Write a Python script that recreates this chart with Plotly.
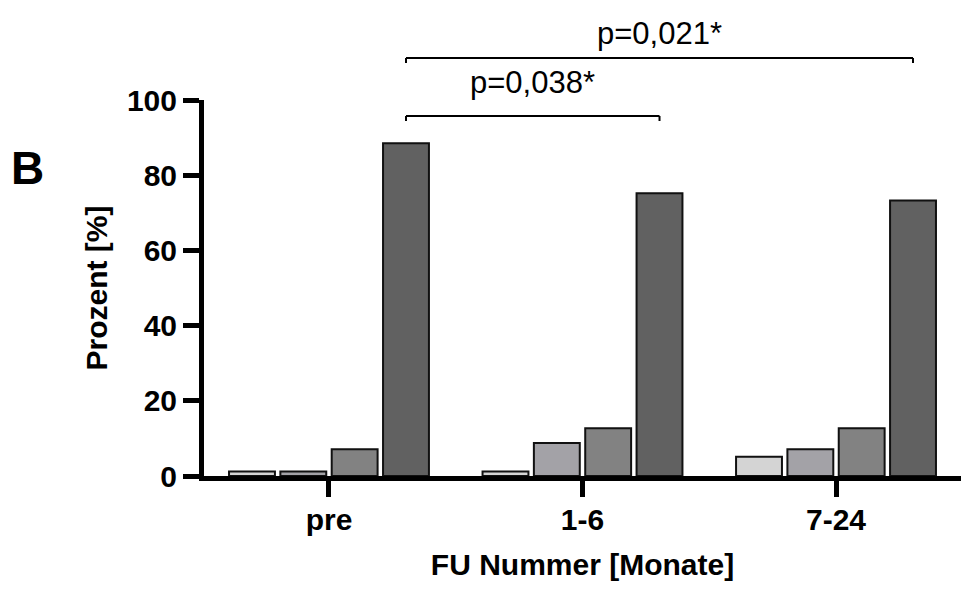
import plotly.graph_objects as go

# ---- data ----
categories = ["pre", "1-6", "7-24"]
series_names = ["Kategorie 1", "Kategorie 2", "Kategorie 3", "Kategorie 4"]
values_k1 = [1.2, 1.2, 5.1]
values_k2 = [1.2, 8.8, 7.1]
values_k3 = [7.1, 12.7, 12.7]
values_k4 = [88.5, 75.2, 73.3]
series_values = [values_k1, values_k2, values_k3, values_k4]
colors = ["#d4d4d4", "#a3a2a7", "#828282", "#616161"]

y_ticks = [0, 20, 40, 60, 80, 100]
comparisons = [("pre", "1-6", "p=0,038*"), ("pre", "7-24", "p=0,021*")]

FONT = "Arial, Liberation Sans, sans-serif"
BARGAP = 0.19
GROUPGAP = 0.106

fig = go.Figure()
for name, vals, col in zip(series_names, series_values, colors):
    fig.add_trace(go.Bar(
        x=categories, y=vals, name=name,
        marker=dict(color=col, line=dict(color="#111111", width=2)),
        showlegend=False,
    ))

W, H = 961, 596
ML, MR, MT, MB = 204, 0, 100, 120
plot_h = H - MT - MB

def py(px):
    # pixel from top -> paper y
    return (H - MB - px) / plot_h

# offset of the 4th bar centre inside a group
slot = (1 - BARGAP) / len(series_names)
off4 = slot * 1.5

bracket_px = [116, 58]
text_px = [82, 33]
tick_drop = 5 / plot_h
shapes = []
annotations = []
for (a, b, label), bpx, tpx in zip(comparisons, bracket_px, text_px):
    xa = categories.index(a) + off4
    xb = categories.index(b) + off4
    yb = py(bpx)
    for path in [
        dict(x0=xa, x1=xb, y0=yb, y1=yb),
        dict(x0=xa, x1=xa, y0=yb, y1=yb - tick_drop),
        dict(x0=xb, x1=xb, y0=yb, y1=yb - tick_drop),
    ]:
        shapes.append(dict(type="line", xref="x", yref="paper",
                           line=dict(color="black", width=2), **path))
    annotations.append(dict(x=(xa + xb) / 2, y=py(tpx), xref="x", yref="paper",
                            text=label, showarrow=False, xanchor="center",
                            yanchor="middle",
                            font=dict(family=FONT, size=31, color="black")))

annotations.append(dict(x=-0.2338, y=py(168), xref="paper", yref="paper",
                        text="<b>B</b>", showarrow=False, xanchor="center",
                        yanchor="middle",
                        font=dict(family=FONT, size=46, color="black")))

fig.update_layout(
    width=W, height=H,
    margin=dict(l=ML, r=MR, t=MT, b=MB),
    paper_bgcolor="white", plot_bgcolor="white",
    barmode="group", bargap=BARGAP, bargroupgap=GROUPGAP,
    shapes=shapes, annotations=annotations,
    font=dict(family=FONT, color="black"),
    xaxis=dict(
        range=[-0.493, 2.493],
        showline=True, linecolor="black", linewidth=5,
        ticks="outside", ticklen=16, tickwidth=5, tickcolor="black",
        ticklabelstandoff=-3,
        tickfont=dict(family=FONT, size=30, color="black", weight="bold"),
        title=dict(text="<b>FU Nummer [Monate]</b>",
                   font=dict(family=FONT, size=30, color="black"), standoff=20),
        showgrid=False, zeroline=False, fixedrange=True,
    ),
    yaxis=dict(
        range=[0, 100], tickvals=y_ticks,
        showline=True, linecolor="black", linewidth=5,
        ticks="outside", ticklen=16, tickwidth=5, tickcolor="black",
        tickfont=dict(family=FONT, size=30, color="black", weight="bold"),
        title=dict(text="<b>Prozent [%]</b>",
                   font=dict(family=FONT, size=30, color="black"), standoff=12),
        showgrid=False, zeroline=False, fixedrange=True,
    ),
)

fig.write_html("out.html", config={"displayModeBar": False})
